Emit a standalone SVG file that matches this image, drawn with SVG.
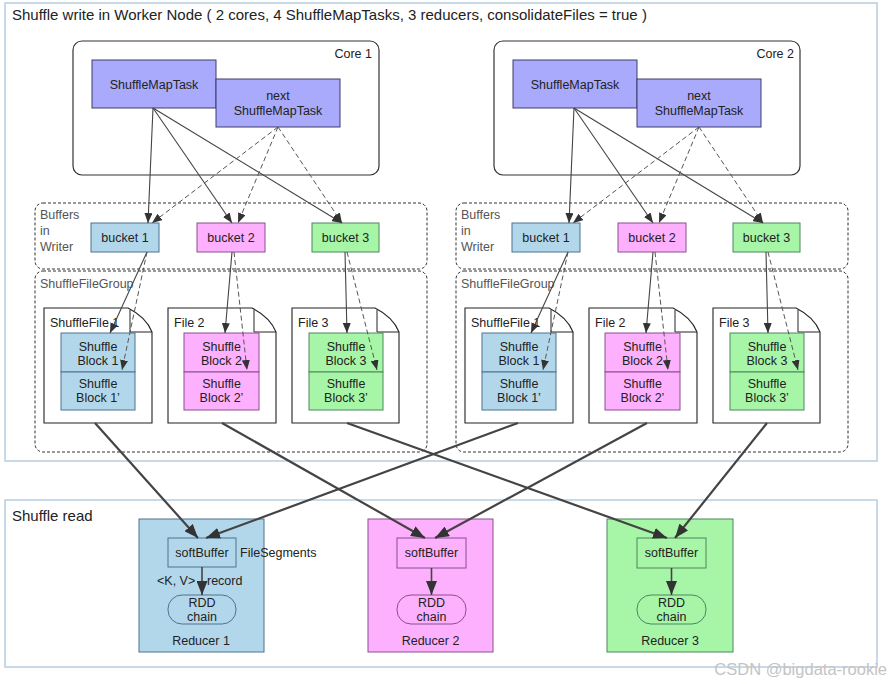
<svg xmlns="http://www.w3.org/2000/svg" width="889" height="684" viewBox="0 0 889 684">
<style>
text{font-family:"Liberation Sans",Arial,sans-serif;fill:#222;font-size:12.5px}
.c{text-anchor:middle}
.g{fill:#555}
.frame{fill:#fff;stroke:#b7cde0;stroke-width:1.5}
.core{fill:#fff;stroke:#333;stroke-width:1.2}
.task{fill:#a9aafc;stroke:#3d3d6a;stroke-width:1}
.grp{fill:none;stroke:#333;stroke-width:1;stroke-dasharray:3,2}
.blue{fill:#b3d7ea;stroke:#4d7292;stroke-width:1}
.pink{fill:#fdb0fd;stroke:#8a4f8f;stroke-width:1}
.green{fill:#a7f5a7;stroke:#4c8660;stroke-width:1}
.doc{fill:#fff;stroke:#222;stroke-width:1.1}
.fold{fill:none;stroke:#222;stroke-width:1}
.s{stroke:#444;stroke-width:1.1;fill:none;marker-end:url(#a)}
.d{stroke:#555;stroke-width:1;fill:none;stroke-dasharray:5,3;marker-end:url(#a)}
.t{stroke:#444;stroke-width:2.2;fill:none;marker-end:url(#b)}
</style>
<defs>
<marker id="a" markerUnits="userSpaceOnUse" markerWidth="10" markerHeight="8" refX="10" refY="4" orient="auto"><path d="M0,0 L10,4 L0,8 z" fill="#333"/></marker>
<marker id="b" markerUnits="userSpaceOnUse" markerWidth="14" markerHeight="11" refX="14" refY="5.5" orient="auto"><path d="M0,0 L14,5.5 L0,11 z" fill="#333"/></marker>
</defs>
<rect width="889" height="684" fill="#fff"/>
<g id="write-frame"><rect class="frame" x="5" y="3" width="872" height="458"/>
<text x="12" y="20" style="font-size:15px">Shuffle write in Worker Node ( 2 cores, 4 ShuffleMapTasks, 3 reducers, consolidateFiles = true )</text></g>
<g id="read-frame"><rect class="frame" x="5" y="500" width="872" height="167"/>
<text x="12" y="521" style="font-size:15px">Shuffle read</text></g>

<!-- Left side -->
<g id="core1"><rect class="core" x="73" y="41" width="306" height="134" rx="9"/><text x="372" y="58" text-anchor="end">Core 1</text></g>
<g id="task1"><rect class="task" x="92" y="60" width="124" height="48"/><text class="c" x="154" y="89">ShuffleMapTask</text></g>
<g id="next1"><rect class="task" x="216" y="79" width="124" height="48"/><text class="c" x="278" y="100">next</text><text class="c" x="278" y="115">ShuffleMapTask</text></g>
<g id="buffers1"><rect class="grp" x="35" y="203" width="392" height="66" rx="8"/><text class="g" x="40" y="219">Buffers</text><text class="g" x="40" y="235">in</text><text class="g" x="40" y="251">Writer</text></g>
<g id="bucket1a"><rect class="blue" x="91" y="223" width="68" height="29"/><text class="c" x="125" y="242">bucket 1</text></g>
<g id="bucket2a"><rect class="pink" x="197" y="223" width="68" height="29"/><text class="c" x="231" y="242">bucket 2</text></g>
<g id="bucket3a"><rect class="green" x="312" y="223" width="67" height="29"/><text class="c" x="345.5" y="242">bucket 3</text></g>
<g id="filegroup1"><rect class="grp" x="35" y="271" width="392" height="181" rx="8"/><text class="g" x="40" y="288">ShuffleFileGroup</text></g>
<g id="file1a"><path class="doc" d="M44,308 H128 C140,314 148,322 152,332 V423 H44 Z"/><path class="fold" d="M130,310 V332 H152"/><text x="50" y="327">ShuffleFile 1</text>
<rect class="blue" x="61" y="333" width="74" height="39"/><rect class="blue" x="61" y="372" width="74" height="38"/>
<text class="c" x="98" y="351">Shuffle</text><text class="c" x="98" y="365">Block 1</text><text class="c" x="98" y="388">Shuffle</text><text class="c" x="98" y="402">Block 1’</text></g>
<g id="file2a"><path class="doc" d="M168,308 H252 C264,314 272,322 276,332 V423 H168 Z"/><path class="fold" d="M254,310 V332 H276"/><text x="174" y="327">File 2</text>
<rect class="pink" x="184" y="333" width="75" height="39"/><rect class="pink" x="184" y="372" width="75" height="38"/>
<text class="c" x="221.5" y="351">Shuffle</text><text class="c" x="221.5" y="365">Block 2</text><text class="c" x="221.5" y="388">Shuffle</text><text class="c" x="221.5" y="402">Block 2’</text></g>
<g id="file3a"><path class="doc" d="M292,308 H375 C387,314 395,322 399,332 V423 H292 Z"/><path class="fold" d="M377,310 V332 H399"/><text x="298" y="327">File 3</text>
<rect class="green" x="309" y="333" width="74" height="39"/><rect class="green" x="309" y="372" width="74" height="38"/>
<text class="c" x="346" y="351">Shuffle</text><text class="c" x="346" y="365">Block 3</text><text class="c" x="346" y="388">Shuffle</text><text class="c" x="346" y="402">Block 3’</text></g>

<!-- Right side -->
<g id="core2"><rect class="core" x="494" y="41" width="306" height="134" rx="9"/><text x="794" y="58" text-anchor="end">Core 2</text></g>
<g id="task2"><rect class="task" x="513" y="60" width="124" height="48"/><text class="c" x="575" y="89">ShuffleMapTask</text></g>
<g id="next2"><rect class="task" x="637" y="79" width="124" height="48"/><text class="c" x="699" y="100">next</text><text class="c" x="699" y="115">ShuffleMapTask</text></g>
<g id="buffers2"><rect class="grp" x="456" y="203" width="392" height="66" rx="8"/><text class="g" x="461" y="219">Buffers</text><text class="g" x="461" y="235">in</text><text class="g" x="461" y="251">Writer</text></g>
<g id="bucket1b"><rect class="blue" x="512" y="223" width="68" height="29"/><text class="c" x="546" y="242">bucket 1</text></g>
<g id="bucket2b"><rect class="pink" x="618" y="223" width="68" height="29"/><text class="c" x="652" y="242">bucket 2</text></g>
<g id="bucket3b"><rect class="green" x="733" y="223" width="67" height="29"/><text class="c" x="766.5" y="242">bucket 3</text></g>
<g id="filegroup2"><rect class="grp" x="456" y="271" width="392" height="181" rx="8"/><text class="g" x="461" y="288">ShuffleFileGroup</text></g>
<g id="file1b"><path class="doc" d="M465,308 H549 C561,314 569,322 573,332 V423 H465 Z"/><path class="fold" d="M551,310 V332 H573"/><text x="471" y="327">ShuffleFile 1</text>
<rect class="blue" x="482" y="333" width="74" height="39"/><rect class="blue" x="482" y="372" width="74" height="38"/>
<text class="c" x="519" y="351">Shuffle</text><text class="c" x="519" y="365">Block 1</text><text class="c" x="519" y="388">Shuffle</text><text class="c" x="519" y="402">Block 1’</text></g>
<g id="file2b"><path class="doc" d="M589,308 H673 C685,314 693,322 697,332 V423 H589 Z"/><path class="fold" d="M675,310 V332 H697"/><text x="595" y="327">File 2</text>
<rect class="pink" x="605" y="333" width="75" height="39"/><rect class="pink" x="605" y="372" width="75" height="38"/>
<text class="c" x="642.5" y="351">Shuffle</text><text class="c" x="642.5" y="365">Block 2</text><text class="c" x="642.5" y="388">Shuffle</text><text class="c" x="642.5" y="402">Block 2’</text></g>
<g id="file3b"><path class="doc" d="M713,308 H796 C808,314 816,322 820,332 V423 H713 Z"/><path class="fold" d="M798,310 V332 H820"/><text x="719" y="327">File 3</text>
<rect class="green" x="730" y="333" width="74" height="39"/><rect class="green" x="730" y="372" width="74" height="38"/>
<text class="c" x="767" y="351">Shuffle</text><text class="c" x="767" y="365">Block 3</text><text class="c" x="767" y="388">Shuffle</text><text class="c" x="767" y="402">Block 3’</text></g>

<!-- Reducers -->
<g id="reducer1"><rect class="blue" x="139" y="519" width="125" height="133"/>
<rect class="blue" x="168" y="538" width="68" height="29"/><text class="c" x="202" y="557">softBuffer</text>
<rect class="blue" x="168" y="595" width="68" height="29" rx="14"/><text class="c" x="202" y="607">RDD</text><text class="c" x="202" y="621">chain</text>
<text class="c" x="201" y="645">Reducer 1</text></g>
<g id="reducer2"><rect class="pink" x="368" y="519" width="125" height="133"/>
<rect class="pink" x="397" y="538" width="69" height="30"/><text class="c" x="431.5" y="557">softBuffer</text>
<rect class="pink" x="397" y="595" width="69" height="29" rx="14"/><text class="c" x="431.5" y="607">RDD</text><text class="c" x="431.5" y="621">chain</text>
<text class="c" x="430.5" y="645">Reducer 2</text></g>
<g id="reducer3"><rect class="green" x="607" y="519" width="126" height="133"/>
<rect class="green" x="637" y="538" width="69" height="30"/><text class="c" x="671.5" y="557">softBuffer</text>
<rect class="green" x="637" y="595" width="69" height="29" rx="14"/><text class="c" x="671.5" y="607">RDD</text><text class="c" x="671.5" y="621">chain</text>
<text class="c" x="670" y="645">Reducer 3</text></g>
<g id="labels"><text x="240" y="557">FileSegments</text><text x="157" y="585">&lt;K, V&gt;</text><text x="207" y="585">record</text></g>

<g id="connectors">
<line class="s" x1="153" y1="108" x2="148" y2="223"/>
<line class="s" x1="153" y1="108" x2="232" y2="223"/>
<line class="s" x1="153" y1="108" x2="342" y2="223"/>
<line class="d" x1="278" y1="127" x2="152" y2="223"/>
<line class="d" x1="278" y1="127" x2="238" y2="223"/>
<line class="d" x1="278" y1="127" x2="342" y2="223"/>
<line class="s" x1="147" y1="252" x2="110" y2="333"/>
<line class="d" x1="147" y1="252" x2="122" y2="370"/>
<line class="s" x1="232" y1="252" x2="225" y2="333"/>
<line class="d" x1="234" y1="252" x2="247" y2="370"/>
<line class="s" x1="345" y1="252" x2="347" y2="333"/>
<line class="d" x1="347" y1="252" x2="377" y2="370"/>

<line class="s" x1="574" y1="108" x2="569" y2="223"/>
<line class="s" x1="574" y1="108" x2="653" y2="223"/>
<line class="s" x1="574" y1="108" x2="763" y2="223"/>
<line class="d" x1="699" y1="127" x2="573" y2="223"/>
<line class="d" x1="699" y1="127" x2="659" y2="223"/>
<line class="d" x1="699" y1="127" x2="763" y2="223"/>
<line class="s" x1="568" y1="252" x2="531" y2="333"/>
<line class="d" x1="568" y1="252" x2="543" y2="370"/>
<line class="s" x1="653" y1="252" x2="646" y2="333"/>
<line class="d" x1="655" y1="252" x2="668" y2="370"/>
<line class="s" x1="766" y1="252" x2="768" y2="333"/>
<line class="d" x1="768" y1="252" x2="798" y2="370"/>

<line class="t" x1="95" y1="423" x2="198" y2="538"/>
<line class="t" x1="222" y1="423" x2="425" y2="538"/>
<line class="t" x1="347" y1="423" x2="667" y2="538"/>
<line class="t" x1="518" y1="423" x2="206" y2="538"/>
<line class="t" x1="647" y1="423" x2="435" y2="538"/>
<line class="t" x1="767" y1="423" x2="675" y2="538"/>
<line class="t" x1="202" y1="567" x2="202" y2="595" style="stroke-width:1.6"/>
<line class="t" x1="431.5" y1="568" x2="431.5" y2="595" style="stroke-width:1.6"/>
<line class="t" x1="671.5" y1="568" x2="671.5" y2="595" style="stroke-width:1.6"/>
</g>
<text x="887" y="675" text-anchor="end" style="font-size:16.5px;fill:#c4c4c4">CSDN @bigdata-rookie</text>
</svg>
